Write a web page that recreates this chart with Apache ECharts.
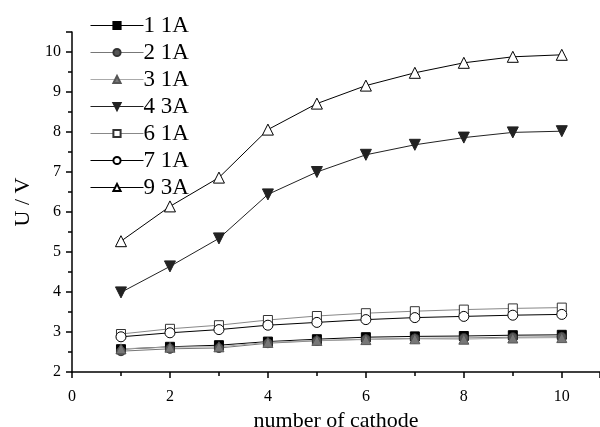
<!DOCTYPE html>
<html>
<head>
<meta charset="utf-8">
<script src="https://cdn.jsdelivr.net/npm/echarts@6/dist/echarts.min.js"></script>
<style>
  html, body { margin: 0; padding: 0; background: #fff; }
  #main { width: 600px; height: 427px; }
</style>
</head>
<body>
<div id="main"></div>
<script>
var cathodes = [1, 2, 3, 4, 5, 6, 7, 8, 9, 10];

var s1_1A = [2.57, 2.63, 2.67, 2.76, 2.82, 2.87, 2.89, 2.90, 2.92, 2.93];
var s2_1A = [2.52, 2.58, 2.60, 2.72, 2.78, 2.82, 2.84, 2.85, 2.87, 2.88];
var s3_1A = [2.58, 2.62, 2.63, 2.74, 2.79, 2.81, 2.83, 2.82, 2.85, 2.86];
var s4_3A = [3.99, 4.64, 5.34, 6.44, 7.00, 7.43, 7.68, 7.86, 7.99, 8.02];
var s6_1A = [2.95, 3.08, 3.17, 3.30, 3.40, 3.47, 3.52, 3.56, 3.59, 3.61];
var s7_1A = [2.88, 2.98, 3.06, 3.17, 3.24, 3.31, 3.36, 3.39, 3.42, 3.44];
var s9_3A = [5.27, 6.14, 6.86, 8.06, 8.71, 9.16, 9.48, 9.73, 9.88, 9.93];

function pairs(vals) {
  return cathodes.map(function (c, i) { return [c, vals[i]]; });
}

var font = 'Liberation Serif';

function mk(name, vals, symbol, fill, border, lineColor, size) {
  return {
    name: name,
    type: 'line',
    data: pairs(vals),
    symbol: symbol,
    symbolSize: size || 9,
    showAllSymbol: true,
    lineStyle: { color: lineColor, width: 1 },
    itemStyle: { color: fill, borderColor: border, borderWidth: 1 },
    emphasis: { disabled: true }
  };
}

var myChart = echarts.init(document.getElementById('main'), null, { renderer: 'canvas' });

var option = {
  animation: false,
  backgroundColor: '#fff',
  grid: { left: 72, right: 0, top: 32, bottom: 55, containLabel: false, outerBoundsMode: 'none' },
  legend: {
    orient: 'vertical',
    left: 85,
    top: 9,
    itemGap: 4,
    itemWidth: 53,
    itemHeight: 9,
    lineStyle: { width: 1 },
    textStyle: { fontFamily: font, fontSize: 23, lineHeight: 23, color: '#000', padding: [0, 0, 0, -5] },
    data: ['1 1A', '2 1A', '3 1A', '4 3A', '6 1A', '7 1A', '9 3A']
  },
  xAxis: {
    type: 'value',
    min: 0,
    max: 10.78,
    interval: 2,
    name: 'number of cathode',
    nameLocation: 'middle',
    nameGap: 19,
    nameTextStyle: { fontFamily: font, fontSize: 22, color: '#000' },
    axisLine: { lineStyle: { color: '#000', width: 1.5 } },
    axisTick: { length: 6, lineStyle: { color: '#000', width: 1.5 } },
    minorTick: { show: true, splitNumber: 2, length: 4, lineStyle: { color: '#000', width: 1.5 } },
    axisLabel: {
      fontFamily: font, fontSize: 16, color: '#000', margin: 17, showMaxLabel: false,
      formatter: function (v) { return v % 2 === 0 ? String(v) : ''; }
    },
    splitLine: { show: false }
  },
  yAxis: {
    type: 'value',
    min: 2,
    max: 10.5,
    interval: 1,
    name: 'U / V',
    nameLocation: 'middle',
    nameGap: 33,
    nameRotate: 90,
    nameTextStyle: { fontFamily: font, fontSize: 22, color: '#000' },
    axisLine: { lineStyle: { color: '#000', width: 1.5 } },
    axisTick: { length: 6, lineStyle: { color: '#000', width: 1.5 } },
    minorTick: { show: true, splitNumber: 2, length: 4, lineStyle: { color: '#000', width: 1.5 } },
    axisLabel: {
      fontFamily: font, fontSize: 16, color: '#000', margin: 11, showMaxLabel: false,
      formatter: function (v) { return Number.isInteger(v) ? String(v) : ''; }
    },
    splitLine: { show: false }
  },
  series: [
    mk('1 1A', s1_1A, 'rect', '#000', '#000', '#000', 9),
    mk('2 1A', s2_1A, 'circle', '#555', '#333', '#777', 9),
    mk('3 1A', s3_1A, 'triangle', '#777', '#555', '#aaa', 10),
    mk('4 3A', s4_3A, 'path://M0,0 L10,0 L5,9 Z', '#222', '#222', '#222', 11),
    mk('6 1A', s6_1A, 'rect', '#fff', '#333', '#888', 9),
    mk('7 1A', s7_1A, 'circle', '#fff', '#000', '#000', 10),
    mk('9 3A', s9_3A, 'triangle', '#fff', '#000', '#000', 11)
  ]
};

myChart.setOption(option);
</script>
</body>
</html>
